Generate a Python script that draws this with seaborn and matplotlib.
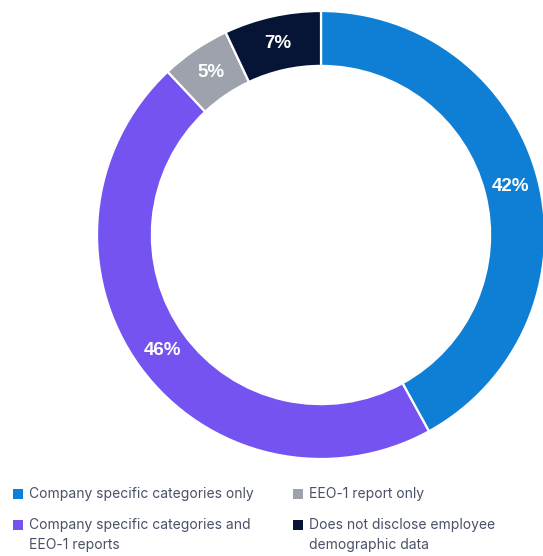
import matplotlib
matplotlib.use("Agg")
import matplotlib.pyplot as plt
from matplotlib.patches import Rectangle
import seaborn as sns

# Share of companies by type of employee demographic disclosure
categories = [
    "Company specific categories only",
    "Company specific categories and\nEEO-1 reports",
    "EEO-1 report only",
    "Does not disclose employee\ndemographic data",
]
shares = [42, 46, 5, 7]
colors = ["#0e7fd5", "#7453f0", "#9da2ad", "#061436"]

sns.set_theme(style="white")
plt.rcParams["font.family"] = ["Inter", "DejaVu Sans"]

W, H = 543, 556
fig = plt.figure(figsize=(W / 100, H / 100), dpi=100)
fig.patch.set_facecolor("white")

# Donut axes: centre at (321, 235) px, outer radius 224 px
cx, cy, R = 321, 235, 224
ax = fig.add_axes([(cx - R) / W, (H - cy - R) / H, 2 * R / W, 2 * R / H])
wedges, texts, autotexts = ax.pie(
    shares,
    colors=colors,
    startangle=90,
    counterclock=False,
    radius=1.0,
    wedgeprops=dict(width=0.245, edgecolor="white", linewidth=1.6),
    autopct=lambda p: f"{p:.0f}%",
    pctdistance=0.875,
    textprops=dict(color="white", fontsize=13.5, fontweight="bold",
                   family=["Liberation Sans", "DejaVu Sans"]),
)
ax.set_xlim(-1, 1)
ax.set_ylim(-1, 1)
ax.set_aspect("equal")
ax.axis("off")

# Two-column legend below the ring
text_color = "#4a5068"
positions = [(13, 489), (13, 520), (293, 489), (293, 520)]
for (x, y), label, col in zip(positions, categories, colors):
    fig.add_artist(Rectangle((x / W, 1 - (y + 10) / H), 10 / W, 10 / H,
                             transform=fig.transFigure, facecolor=col,
                             edgecolor="none"))
    fig.text((x + 16) / W, 1 - (y - 2) / H, label, ha="left", va="top",
             fontsize=10, color=text_color, linespacing=1.5)

fig.savefig("out.png", dpi=100, facecolor="white")
